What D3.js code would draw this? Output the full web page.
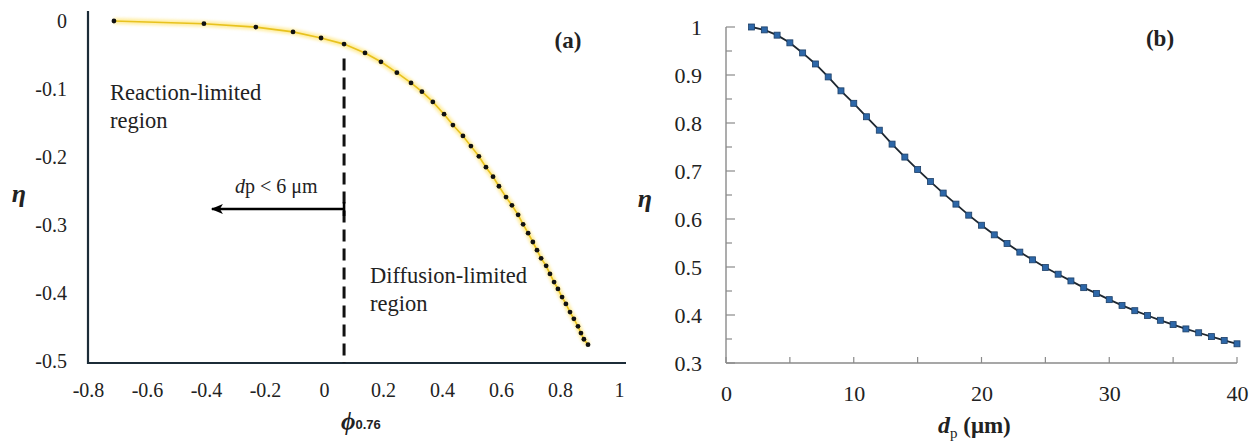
<!DOCTYPE html>
<html>
<head>
<meta charset="utf-8">
<script src="https://cdn.jsdelivr.net/npm/d3@7"></script>
<style>
  body { margin: 0; background: #fff; }
  text { font-family: "Liberation Serif", "Times New Roman", serif; fill: #222; }
  .tickA text, .tickB text { font-family: "Liberation Serif", "Times New Roman", serif; fill: #222; }
</style>
</head>
<body>
<div class="container"></div>
<script>
var w = 1256;
var h = 443;

// panel (a): phi_0.76 vs eta
var phi = [-0.712, -0.407, -0.231, -0.105, -0.010, 0.068, 0.139, 0.193, 0.247, 0.295,
  0.332, 0.369, 0.407, 0.437, 0.471, 0.498, 0.525, 0.549, 0.573, 0.593,
  0.617, 0.637, 0.658, 0.675, 0.692, 0.708, 0.722, 0.736, 0.753, 0.766,
  0.780, 0.793, 0.807, 0.820, 0.834, 0.847, 0.861, 0.871, 0.881, 0.895];
var etaA = [0, -0.004, -0.009, -0.016, -0.025, -0.034, -0.047, -0.060, -0.076, -0.091,
  -0.104, -0.119, -0.137, -0.153, -0.169, -0.184, -0.199, -0.215, -0.229, -0.243,
  -0.259, -0.271, -0.285, -0.299, -0.312, -0.325, -0.337, -0.349, -0.360, -0.372,
  -0.384, -0.394, -0.406, -0.416, -0.428, -0.438, -0.449, -0.459, -0.468, -0.476];
var xTicksA = [-0.8, -0.6, -0.4, -0.2, 0, 0.2, 0.4, 0.6, 0.8, 1];
var yTicksA = [0, -0.1, -0.2, -0.3, -0.4, -0.5];
var threshold = 0.068;

// panel (b): d_p vs eta
var dp = [2, 3, 4, 5, 6, 7, 8, 9, 10, 11, 12, 13, 14, 15, 16, 17, 18, 19, 20, 21,
  22, 23, 24, 25, 26, 27, 28, 29, 30, 31, 32, 33, 34, 35, 36, 37, 38, 39, 40];
var etaB = [1.000, 0.994, 0.983, 0.967, 0.946, 0.923, 0.896, 0.867, 0.841, 0.813,
  0.785, 0.756, 0.729, 0.703, 0.678, 0.654, 0.631, 0.608, 0.587, 0.567,
  0.549, 0.531, 0.515, 0.499, 0.485, 0.471, 0.457, 0.445, 0.432, 0.420,
  0.409, 0.399, 0.389, 0.380, 0.371, 0.363, 0.355, 0.347, 0.340];
var xTicksB = [0, 10, 20, 30, 40];
var xMinorB = [5, 15, 25, 35];
var yTicksB = [0.3, 0.4, 0.5, 0.6, 0.7, 0.8, 0.9, 1];
var yMinorB = [0.35, 0.45, 0.55, 0.65, 0.75, 0.85, 0.95];

var serif = '"Liberation Serif", "Times New Roman", serif';

var svg = d3.select(".container").append("svg")
  .attr("width", w).attr("height", h);

var defs = svg.append("defs");
defs.append("marker").attr("id", "arrowHead")
  .attr("viewBox", "0 0 12 10").attr("refX", 11).attr("refY", 5)
  .attr("markerWidth", 12).attr("markerHeight", 10)
  .attr("markerUnits", "userSpaceOnUse").attr("orient", "auto")
  .append("path").attr("d", "M0,0 L12,5 L0,10 L3,5 Z").attr("fill", "#000");
defs.append("filter").attr("id", "glow")
  .append("feGaussianBlur").attr("stdDeviation", 1.6);

// ---------- panel (a) ----------
var xA = d3.scaleLinear().domain([-0.8, 1]).range([88, 619]);
var yA = d3.scaleLinear().domain([-0.5, 0]).range([361, 21]);
var dataA = phi.map((p, i) => [p, etaA[i]]);
var axisColA = "#1c2c38";

var gA = svg.append("g");

gA.append("g")
  .attr("class", "tickA")
  .attr("transform", "translate(88,0)")
  .call(d3.axisLeft(yA).tickValues(yTicksA).tickSize(0).tickPadding(21).tickFormat(d => String(d)))
  .attr("font-family", serif).attr("font-size", 20)
  .call(g => g.select(".domain").remove());

gA.append("g")
  .attr("class", "tickA")
  .attr("transform", "translate(0,363)")
  .call(d3.axisBottom(xA).tickValues(xTicksA).tickSize(0).tickPadding(20).tickFormat(d => String(d)))
  .attr("font-family", serif).attr("font-size", 20)
  .call(g => g.select(".domain").remove());

gA.append("line").attr("x1", 88).attr("x2", 88).attr("y1", 11).attr("y2", 364)
  .attr("stroke", axisColA).attr("stroke-width", 2.2);
gA.append("line").attr("x1", 87).attr("x2", 626).attr("y1", 363).attr("y2", 363)
  .attr("stroke", axisColA).attr("stroke-width", 2.2);

var lineA = d3.line().x(d => xA(d[0])).y(d => yA(d[1]));
gA.append("path").datum(dataA).attr("d", lineA)
  .attr("fill", "none").attr("stroke", "#ffe98a").attr("stroke-width", 6)
  .attr("filter", "url(#glow)").attr("opacity", 0.8);
gA.append("path").datum(dataA).attr("d", lineA)
  .attr("fill", "none").attr("stroke", "#e8c21e").attr("stroke-width", 1.6);
gA.selectAll("circle.pt").data(dataA).enter().append("circle")
  .attr("class", "pt")
  .attr("cx", d => xA(d[0])).attr("cy", d => yA(d[1])).attr("r", 2.4)
  .attr("fill", "#111");

// threshold dashed line
gA.append("line")
  .attr("x1", xA(threshold)).attr("x2", xA(threshold))
  .attr("y1", yA(-0.055)).attr("y2", 363)
  .attr("stroke", "#111").attr("stroke-width", 3)
  .attr("stroke-dasharray", "12,7");

// arrow
var arrowY = yA(-0.2765);
gA.append("line")
  .attr("x1", xA(threshold)).attr("x2", xA(-0.38))
  .attr("y1", arrowY).attr("y2", arrowY)
  .attr("stroke", "#000").attr("stroke-width", 2.6)
  .attr("marker-end", "url(#arrowHead)");
gA.append("line")
  .attr("x1", xA(threshold)).attr("x2", xA(threshold))
  .attr("y1", arrowY - 7).attr("y2", arrowY + 7)
  .attr("stroke", "#000").attr("stroke-width", 2.6);

var dpTxt = gA.append("text").attr("x", 235).attr("y", 193).style("font-size", "20px");
dpTxt.append("tspan").style("font-style", "italic").text("d");
dpTxt.append("tspan").text("p < 6 μm");

gA.append("text").attr("x", 110).attr("y", 100).style("font-size", "22.5px").text("Reaction-limited");
gA.append("text").attr("x", 110).attr("y", 128).style("font-size", "22.5px").text("region");
gA.append("text").attr("x", 370).attr("y", 283).style("font-size", "22.5px").text("Diffusion-limited");
gA.append("text").attr("x", 370).attr("y", 311).style("font-size", "22.5px").text("region");

gA.append("text").attr("x", 568).attr("y", 48).attr("text-anchor", "middle")
  .style("font-size", "23px").style("font-weight", "bold").text("(a)");

gA.append("text").attr("x", 19).attr("y", 202).attr("text-anchor", "middle")
  .style("font-size", "26px").style("font-style", "italic").style("font-weight", "bold").text("η");

var phiLab = gA.append("text").attr("x", 341).attr("y", 430);
phiLab.append("tspan").style("font-size", "25px").style("font-style", "italic").style("font-weight", "bold").text("ϕ");
phiLab.append("tspan").attr("dy", -1).style("font-size", "13px").style("font-weight", "bold")
  .style("font-family", '"Liberation Sans", Arial, sans-serif').text("0.76");

// ---------- panel (b) ----------
var xB = d3.scaleLinear().domain([0, 40]).range([726, 1237]);
var yB = d3.scaleLinear().domain([0.3, 1]).range([363, 27]);
var dataB = dp.map((d, i) => [d, etaB[i]]);
var axisColB = "#8a8a8a";

var gB = svg.append("g");

gB.append("g")
  .attr("class", "tickB")
  .attr("transform", "translate(726,0)")
  .call(d3.axisLeft(yB).tickValues(yTicksB).tickSize(0).tickPadding(24).tickFormat(d => String(d)))
  .attr("font-family", serif).attr("font-size", 22)
  .call(g => g.select(".domain").remove());

gB.append("g")
  .attr("class", "tickB")
  .attr("transform", "translate(0,363)")
  .call(d3.axisBottom(xB).tickValues(xTicksB).tickSize(0).tickPadding(22).tickFormat(d => String(d)))
  .attr("font-family", serif).attr("font-size", 22)
  .call(g => g.select(".domain").remove());

// inward ticks
gB.selectAll("line.yt").data(yTicksB.concat(yMinorB)).enter().append("line")
  .attr("class", "yt")
  .attr("x1", 726).attr("x2", d => yMinorB.indexOf(d) >= 0 ? 732 : 735)
  .attr("y1", d => yB(d)).attr("y2", d => yB(d))
  .attr("stroke", axisColB).attr("stroke-width", 1.2);
gB.selectAll("line.xt").data(xTicksB.concat(xMinorB)).enter().append("line")
  .attr("class", "xt")
  .attr("x1", d => xB(d)).attr("x2", d => xB(d))
  .attr("y1", 363).attr("y2", 357)
  .attr("stroke", axisColB).attr("stroke-width", 1.2);

gB.append("line").attr("x1", 726).attr("x2", 726).attr("y1", yB(1)).attr("y2", 363)
  .attr("stroke", axisColB).attr("stroke-width", 1.4);
gB.append("line").attr("x1", 726).attr("x2", xB(40)).attr("y1", 363).attr("y2", 363)
  .attr("stroke", axisColB).attr("stroke-width", 1.4);

var lineB = d3.line().x(d => xB(d[0])).y(d => yB(d[1]));
gB.append("path").datum(dataB).attr("d", lineB)
  .attr("fill", "none").attr("stroke", "#1e2730").attr("stroke-width", 1.8);
gB.selectAll("rect.pt").data(dataB).enter().append("rect")
  .attr("class", "pt")
  .attr("x", d => xB(d[0]) - 3).attr("y", d => yB(d[1]) - 3)
  .attr("width", 6).attr("height", 6)
  .attr("fill", "#2d67a8").attr("stroke", "#1d3f66").attr("stroke-width", 0.8);

gB.append("text").attr("x", 1160).attr("y", 46).attr("text-anchor", "middle")
  .style("font-size", "23px").style("font-weight", "bold").text("(b)");

gB.append("text").attr("x", 645).attr("y", 207).attr("text-anchor", "middle")
  .style("font-size", "26px").style("font-style", "italic").style("font-weight", "bold").text("η");

var dpLab = gB.append("text").attr("x", 938).attr("y", 433);
dpLab.append("tspan").style("font-size", "24px").style("font-style", "italic").style("font-weight", "bold").text("d");
dpLab.append("tspan").attr("dy", 5).style("font-size", "15px").text("p");
dpLab.append("tspan").attr("dy", -5).style("font-size", "23px").style("font-weight", "bold").text(" (μm)");
</script>
</body>
</html>
